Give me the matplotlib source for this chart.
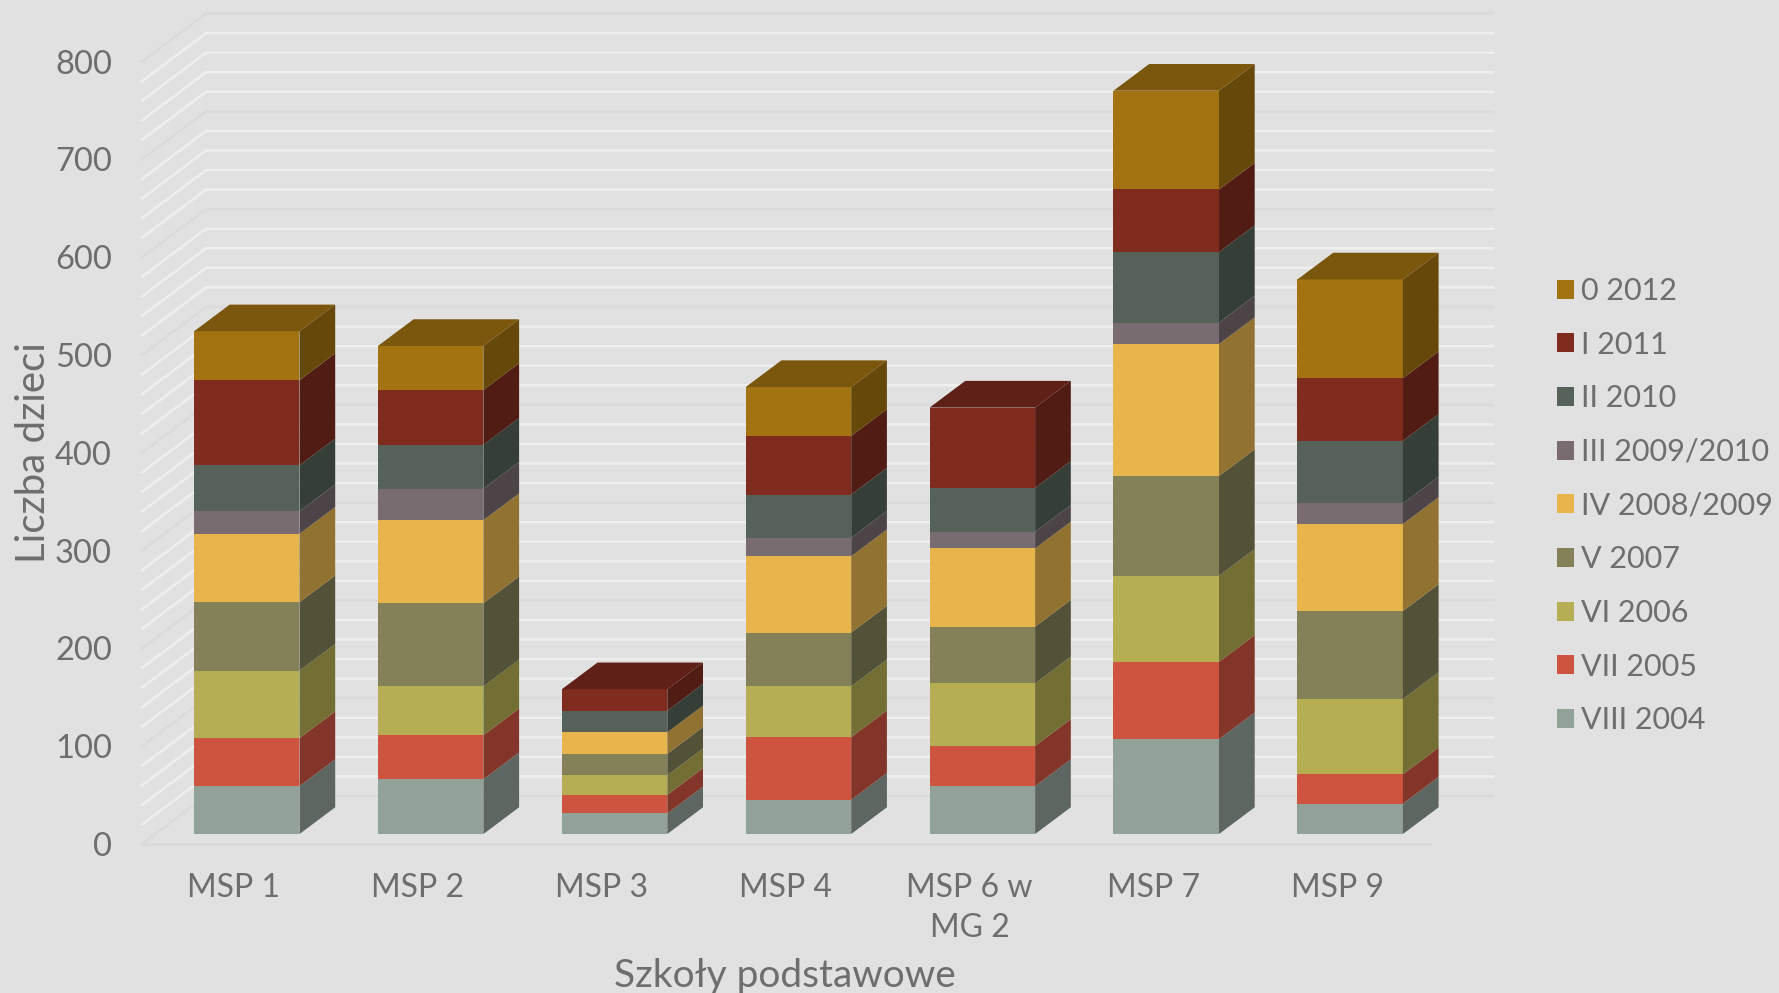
import numpy as np
import matplotlib
matplotlib.use('Agg')
import matplotlib.pyplot as plt
from matplotlib.patches import Polygon, Patch
from matplotlib.colors import to_rgb

schools = ['MSP 1', 'MSP 2', 'MSP 3', 'MSP 4', 'MSP 6 w\nMG 2', 'MSP 7', 'MSP 9']

# classes from the bottom of the stack to the top
classes = ['VIII 2004', 'VII 2005', 'VI 2006', 'V 2007', 'IV 2008/2009',
           'III 2009/2010', 'II 2010', 'I 2011', '0 2012']
colors = ['#93A299', '#CF543F', '#B5AE53', '#848058', '#E8B54D',
          '#786C71', '#566259', '#7F2C1F', '#A47311']

viii_2004 = [49, 56, 21, 35, 49, 97, 31]
vii_2005 = [49, 45, 19, 64, 41, 79, 30]
vi_2006 = [69, 50, 20, 52, 64, 88, 77]
v_2007 = [70, 85, 22, 55, 58, 102, 90]
iv_2008 = [70, 85, 22, 78, 80, 135, 89]
iii_2009 = [23, 32, 0, 19, 17, 22, 21]
ii_2010 = [47, 45, 22, 44, 45, 72, 64]
i_2011 = [87, 56, 22, 60, 82, 64, 64]
zero_2012 = [50, 45, 0, 50, 0, 101, 101]
series = [viii_2004, vii_2005, vi_2006, v_2007, iv_2008, iii_2009, ii_2010, i_2011, zero_2012]

y_ticks = [0, 100, 200, 300, 400, 500, 600, 700, 800]
grid_values = np.arange(0, 801, 20)

W, H = 1779, 993
PX_X = 183.9   # pixels between categories
PX_Y = 0.978   # pixels per child
X0, Y0 = 246.75, 834   # first bar centre, bar baseline

bar_w = 105.5 / PX_X
depth_x = 35.7 / PX_X
depth_y = 26.7 / PX_Y

# floor of the fake 3d box, relative to the bar baseline
wall_front_y = -10 / PX_Y
wall_dx = 64 / PX_X
wall_dy = 48 / PX_Y
wall_left = (142 - X0) / PX_X
wall_right = (1493 - X0) / PX_X
floor_right = (1430 - X0) / PX_X

txt = '#6E6E6E'
plt.rcParams['font.family'] = ['Lato', 'DejaVu Sans']

fig = plt.figure(figsize=(W / 100, H / 100), dpi=100, facecolor='#E1E1E1')
ax = fig.add_axes([0, 0, 1, 1])
ax.set_xlim(-X0 / PX_X, (W - X0) / PX_X)
ax.set_ylim((Y0 - H) / PX_Y, Y0 / PX_Y)
ax.axis('off')


def shade(c, f):
    return tuple(v * f for v in to_rgb(c))


# gridlines on left and back walls
for g in grid_values:
    major = g % 100 == 0
    col = '#DADADA' if major else '#EFEFEF'
    xs = [wall_left, wall_left + wall_dx, wall_right]
    ys = [g + wall_front_y, g + wall_front_y + wall_dy, g + wall_front_y + wall_dy]
    ax.plot(xs, ys, color=col, lw=1.8, zorder=1, solid_joinstyle='miter')

# front edge of the floor
ax.plot([wall_left, floor_right], [wall_front_y, wall_front_y], color='#DADADA', lw=1.8, zorder=1)

# bars: front through ax.bar, side and top as polygons
x = np.arange(len(schools))
bottom = np.zeros(len(schools))
for vals, col in zip(series, colors):
    vals = np.array(vals, dtype=float)
    ax.bar(x, vals, width=bar_w, bottom=bottom, color=col, zorder=3)
    for i in x:
        if vals[i] == 0:
            continue
        r = i + bar_w / 2
        b, t = bottom[i], bottom[i] + vals[i]
        ax.add_patch(Polygon([(r, b), (r + depth_x, b + depth_y), (r + depth_x, t + depth_y), (r, t)],
                             closed=True, facecolor=shade(col, 0.63), edgecolor='none', zorder=3))
    bottom = bottom + vals

# top cap takes the colour of the last non empty class
for i in x:
    top_col = [c for s, c in zip(series, colors) if s[i] > 0][-1]
    l, r, t = i - bar_w / 2, i + bar_w / 2, bottom[i]
    ax.add_patch(Polygon([(l, t), (r, t), (r + depth_x, t + depth_y), (l + depth_x, t + depth_y)],
                         closed=True, facecolor=shade(top_col, 0.75), edgecolor='none', zorder=3))

# axis text
for v in y_ticks:
    ax.text((112 - X0) / PX_X, v + wall_front_y - 3, str(v), ha='right', va='center',
            fontsize=23.5, color=txt)
for i, name in enumerate(schools):
    ax.text(i - 0.07, (Y0 - 873) / PX_Y, name, ha='center', va='top', fontsize=23,
            color=txt, linespacing=1.4)

ax.text((785 - X0) / PX_X, (Y0 - 976) / PX_Y, 'Szkoły podstawowe', ha='center', va='center',
        fontsize=28, color=txt)
ax.text((33 - X0) / PX_X, (Y0 - 453) / PX_Y, 'Liczba dzieci', ha='center', va='center',
        rotation=90, fontsize=29, color=txt)

handles = [Patch(facecolor=c, edgecolor='none') for c in colors[::-1]]
ax.legend(handles, classes[::-1], loc='upper left', bbox_to_anchor=(1557 / W, 1 - 277 / H),
          frameon=False, fontsize=22, labelcolor=txt, borderpad=0, borderaxespad=0,
          handlelength=0.55, handleheight=0.58, handletextpad=0.25, labelspacing=0.84)

fig.savefig('out.png', dpi=100, facecolor=fig.get_facecolor())
